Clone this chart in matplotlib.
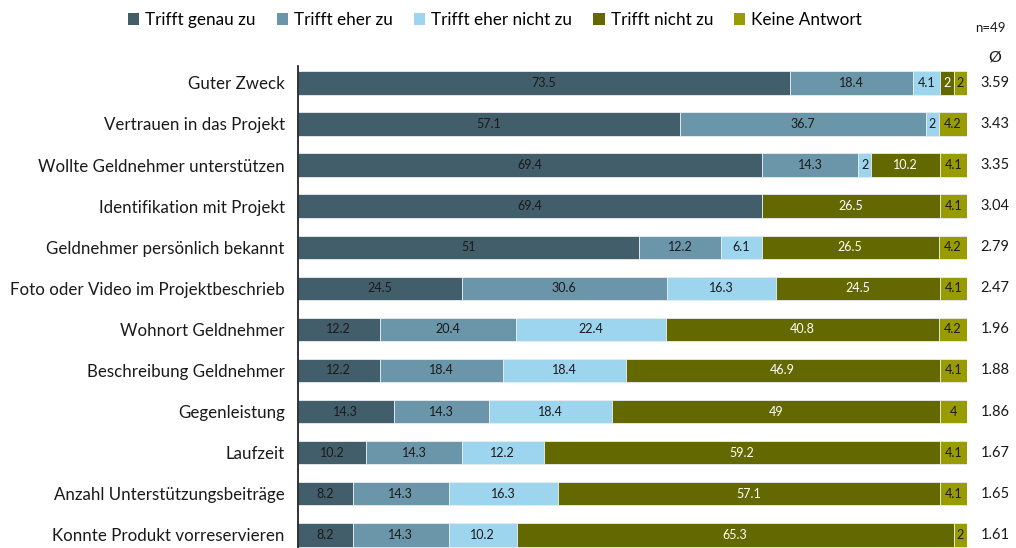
import matplotlib
matplotlib.use("Agg")
import matplotlib.pyplot as plt
import numpy as np

categories = ["Guter Zweck", "Vertrauen in das Projekt", "Wollte Geldnehmer unterstützen",
              "Identifikation mit Projekt", "Geldnehmer persönlich bekannt",
              "Foto oder Video im Projektbeschrieb", "Wohnort Geldnehmer",
              "Beschreibung Geldnehmer", "Gegenleistung", "Laufzeit",
              "Anzahl Unterstützungsbeiträge", "Konnte Produkt vorreservieren"]
series_names = ["Trifft genau zu", "Trifft eher zu", "Trifft eher nicht zu", "Trifft nicht zu", "Keine Antwort"]
genau = [73.5, 57.1, 69.4, 69.4, 51, 24.5, 12.2, 12.2, 14.3, 10.2, 8.2, 8.2]
eher = [18.4, 36.7, 14.3, 0, 12.2, 30.6, 20.4, 18.4, 14.3, 14.3, 14.3, 14.3]
eher_nicht = [4.1, 2, 2, 0, 6.1, 16.3, 22.4, 18.4, 18.4, 12.2, 16.3, 10.2]
nicht = [2, 0, 10.2, 26.5, 26.5, 24.5, 40.8, 46.9, 49, 59.2, 57.1, 65.3]
keine = [2, 4.2, 4.1, 4.1, 4.2, 4.1, 4.2, 4.1, 4, 4.1, 4.1, 2]
means = ["3.59", "3.43", "3.35", "3.04", "2.79", "2.47", "1.96", "1.88", "1.86", "1.67", "1.65", "1.61"]
n_label = "n=49"
mean_header = "Ø"

colors = ["#435e6b", "#6b95a8", "#9dd5ef", "#636900", "#989c00"]
text_colors = ["#1a1a1a", "#1a1a1a", "#1a1a1a", "white", "#1a1a1a"]

plt.rcParams["font.family"] = ["Lato", "DejaVu Sans"]

fig = plt.figure(figsize=(10.16, 5.48), dpi=100)
ax = fig.add_axes([298/1016, 0, (967-298)/1016, (548-66)/548])

data = [genau, eher, eher_nicht, nicht, keine]
y = np.arange(len(categories))
left = np.zeros(len(categories))
for s, (vals, col, tc, name) in enumerate(zip(data, colors, text_colors, series_names)):
    vals = np.array(vals, dtype=float)
    ax.barh(y, vals, left=left, height=0.57, color=col, edgecolor="#e8eef0",
            linewidth=0.6, label=name)
    for i, v in enumerate(vals):
        if v > 0:
            ax.text(left[i] + v/2, y[i], f"{v:g}", ha="center", va="center",
                    fontsize=9, color=tc)
    left += vals

ax.set_xlim(0, 100)
ax.set_ylim(11.32, -0.41)
ax.set_yticks(y)
ax.set_yticklabels(categories, fontsize=12.2, color="#1a1a1a")
ax.tick_params(axis="y", length=0, pad=9.5)
ax.set_xticks([])
for sp in ["top", "right", "bottom"]:
    ax.spines[sp].set_visible(False)
ax.spines["left"].set_linewidth(1.2)
ax.spines["left"].set_color("#111111")

for i, m in enumerate(means):
    ax.text(1.042, y[i], m, transform=ax.get_yaxis_transform(), ha="center", va="center",
            fontsize=10.5, color="#1a1a1a")
fig.text(990/1016, 1 - 28/548, n_label, ha="center", va="center", fontsize=9.5, color="#1a1a1a")
fig.text(995/1016, 1 - 57/548, mean_header, ha="center", va="center", fontsize=11.5, color="#1a1a1a")

leg = fig.legend(loc="center", bbox_to_anchor=(495/1016, 1 - 20/548), ncol=5, frameon=False,
                 fontsize=12.3, handlelength=0.65, handleheight=0.65, handletextpad=0.35,
                 columnspacing=1.25)
for h in leg.legend_handles:
    h.set_edgecolor("none")

fig.savefig("out.png", dpi=100)
